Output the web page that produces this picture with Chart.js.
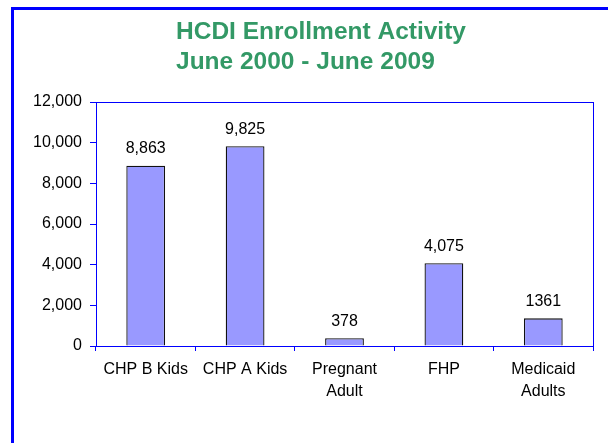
<!DOCTYPE html>
<html>
<head>
<meta charset="utf-8">
<script src="https://cdn.jsdelivr.net/npm/chart.js@4.4.1/dist/chart.umd.min.js"></script>
<style>
  html, body { margin: 0; padding: 0; background: #fff; }
  #wrap { width: 608px; height: 443px; position: relative; }
</style>
</head>
<body>
<div id="wrap"><canvas id="enrollChart" width="608" height="443"></canvas></div>
<script>
const categories = [["CHP B Kids"], ["CHP A Kids"], ["Pregnant", "Adult"], ["FHP"], ["Medicaid", "Adults"]];
const enrollment = [8863, 9825, 378, 4075, 1361];
const valueLabels = ["8,863", "9,825", "378", "4,075", "1361"];
const yTicks = [0, 2000, 4000, 6000, 8000, 10000, 12000];
const titleLines = ["HCDI Enrollment Activity", "June 2000 - June 2009"];

const FONT = "'Liberation Sans', Arial, sans-serif";
const BLUE = "#0000ff";

// outer frame, left-aligned two line title, plot box, value labels
const decorPlugin = {
  id: "decor",
  beforeDraw(chart) {
    const ctx = chart.ctx;
    ctx.save();
    ctx.fillStyle = "#fff";
    ctx.fillRect(0, 0, chart.width, chart.height);
    ctx.strokeStyle = BLUE;
    ctx.lineWidth = 3;
    ctx.beginPath();
    ctx.moveTo(chart.width + 5, 8.5);
    ctx.lineTo(12.5, 8.5);
    ctx.lineTo(12.5, chart.height + 5);
    ctx.stroke();
    ctx.fillStyle = "#339966";
    ctx.font = "bold 24.5px " + FONT;
    ctx.textBaseline = "alphabetic";
    ctx.textAlign = "left";
    ctx.fillText(titleLines[0], 176, 39);
    ctx.fillText(titleLines[1], 176, 69);
    ctx.restore();
  },
  afterDatasetsDraw(chart) {
    const ctx = chart.ctx;
    const a = chart.chartArea;
    ctx.save();
    ctx.strokeStyle = BLUE;
    ctx.lineWidth = 1;
    ctx.strokeRect(Math.round(a.left) + 0.5, Math.round(a.top) + 0.5,
      Math.round(a.right - a.left), Math.round(a.bottom - a.top));
    ctx.fillStyle = "#000";
    ctx.font = "16px " + FONT;
    ctx.textAlign = "center";
    ctx.textBaseline = "alphabetic";
    chart.getDatasetMeta(0).data.forEach((bar, i) => {
      ctx.fillText(valueLabels[i], bar.x, bar.y - 12.5);
    });
    ctx.restore();
  }
};

new Chart(document.getElementById("enrollChart"), {
  type: "bar",
  data: {
    labels: categories,
    datasets: [{
      data: enrollment,
      backgroundColor: "#9999ff",
      borderColor: "#111",
      borderWidth: 1.3,
      borderSkipped: "bottom",
      barPercentage: 0.39,
      categoryPercentage: 1
    }]
  },
  options: {
    responsive: false,
    animation: false,
    devicePixelRatio: 1,
    layout: { padding: { top: 102, right: 15, left: 0, bottom: 0 } },
    plugins: {
      legend: { display: false },
      title: { display: false },
      tooltip: { enabled: false }
    },
    scales: {
      x: {
        offset: true,
        grid: { display: true, offset: true, drawOnChartArea: false, color: BLUE, tickLength: 5 },
        border: { display: true, color: BLUE, width: 1 },
        ticks: {
          color: "#000",
          font: { family: FONT, size: 16, lineHeight: 1.35 },
          padding: 8,
          maxRotation: 0,
          autoSkip: false
        },
        afterFit(scale) { scale.height = 97; }
      },
      y: {
        min: 0,
        max: 12000,
        afterBuildTicks(scale) { scale.ticks = yTicks.map(v => ({ value: v })); },
        grid: { display: true, drawOnChartArea: false, color: BLUE, tickLength: 6 },
        border: { display: true, color: BLUE, width: 1 },
        ticks: {
          color: "#000",
          font: { family: FONT, size: 16 },
          padding: 8,
          callback: v => v.toLocaleString("en-US")
        },
        afterFit(scale) { scale.width = 96; }
      }
    }
  },
  plugins: [decorPlugin]
});
</script>
</body>
</html>
